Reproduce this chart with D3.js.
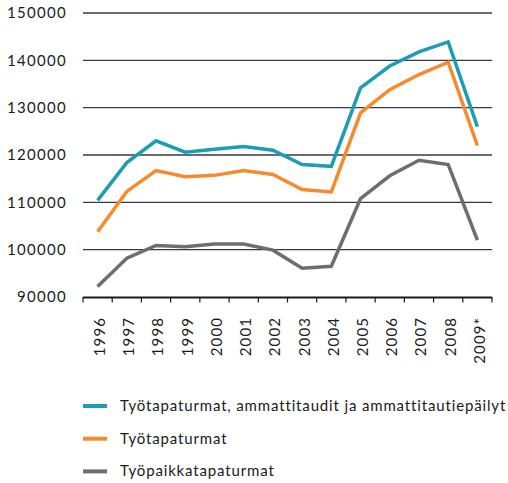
<!DOCTYPE html>
<html>
<head>
<meta charset="utf-8">
<script src="https://cdn.jsdelivr.net/npm/d3@7"></script>
<style>
  body { margin: 0; background: #fff; }
  text { font-family: Lato, "Open Sans", sans-serif; fill: #1a1a1a; }
</style>
</head>
<body>
<div id="chart"></div>
<script>
// chart data
const years = ["1996", "1997", "1998", "1999", "2000", "2001", "2002",
  "2003", "2004", "2005", "2006", "2007", "2008", "2009*"];
const seriesNames = [
  "Työtapaturmat, ammattitaudit ja ammattitautiepäilyt",
  "Työtapaturmat",
  "Työpaikkatapaturmat"
];
const allCases = [110400, 118400, 123000, 120600, 121200, 121800, 121000,
  118000, 117600, 134200, 138800, 141800, 143900, 126000];
const accidents = [103800, 112300, 116700, 115400, 115700, 116700, 115900,
  112700, 112200, 128900, 133800, 137000, 139600, 122000];
const workplace = [92200, 98200, 100900, 100600, 101200, 101200, 99900,
  96100, 96500, 110800, 115600, 118900, 118000, 102000];
const yTicks = [90000, 100000, 110000, 120000, 130000, 140000, 150000];
const colors = ["#1b9eb4", "#f68a2c", "#6e6e70"];

const W = 508, H = 483;
const margin = { top: 13, right: 16, bottom: 186, left: 83 };
const innerW = W - margin.left - margin.right;
const innerH = H - margin.top - margin.bottom;

const svg = d3.select("#chart").append("svg")
  .attr("width", W).attr("height", H);

const g = svg.append("g")
  .attr("transform", `translate(${margin.left},${margin.top})`);

const x = d3.scaleBand().domain(years).range([0, innerW]);
const y = d3.scaleLinear().domain([90000, 150000]).range([innerH, 0]);

// gridlines
g.selectAll(".grid")
  .data(yTicks.filter(d => d > 90000))
  .join("line")
  .attr("class", "grid")
  .attr("x1", 0).attr("x2", innerW)
  .attr("y1", d => y(d)).attr("y2", d => y(d))
  .attr("stroke", "#3a3a3a").attr("stroke-width", 1.3);

// y labels
g.selectAll(".ylab")
  .data(yTicks)
  .join("text")
  .attr("class", "ylab")
  .attr("x", -16).attr("y", d => y(d))
  .attr("dy", "0.36em")
  .attr("text-anchor", "end")
  .style("font-size", "15px")
  .style("letter-spacing", "1.3px")
  .text(d => d);

// x axis
g.append("line")
  .attr("x1", 0).attr("x2", innerW)
  .attr("y1", innerH + 0.5).attr("y2", innerH + 0.5)
  .attr("stroke", "#1a1a1a").attr("stroke-width", 2);

const tickPos = years.map(d => x(d)).concat([innerW]);
g.selectAll(".xtick")
  .data(tickPos)
  .join("line")
  .attr("class", "xtick")
  .attr("x1", d => d).attr("x2", d => d)
  .attr("y1", innerH).attr("y2", innerH + 5.5)
  .attr("stroke", "#1a1a1a").attr("stroke-width", 1.2);

g.selectAll(".xlab")
  .data(years)
  .join("text")
  .attr("class", "xlab")
  .attr("transform", d =>
    `translate(${x(d) + x.bandwidth() / 2 + 2},${innerH + 20}) rotate(-90)`)
  .attr("dy", "0.36em")
  .attr("text-anchor", "end")
  .style("font-size", "15px")
  .style("letter-spacing", "1.1px")
  .text(d => d);

// lines
const series = [allCases, accidents, workplace];
const line = d3.line()
  .x((d, i) => x(years[i]) + x.bandwidth() / 2)
  .y(d => y(d));

g.selectAll(".series")
  .data(series)
  .join("path")
  .attr("class", "series")
  .attr("d", line)
  .attr("fill", "none")
  .attr("stroke", (d, i) => colors[i])
  .attr("stroke-width", 3.5)
  .attr("stroke-linejoin", "miter");

// legend
const legend = svg.append("g").attr("transform", "translate(83,406)");
const item = legend.selectAll(".leg")
  .data(seriesNames)
  .join("g")
  .attr("class", "leg")
  .attr("transform", (d, i) => `translate(0,${i * 32.7})`);

item.append("line")
  .attr("x1", 0).attr("x2", 24)
  .attr("stroke", (d, i) => colors[i])
  .attr("stroke-width", 4);

item.append("text")
  .attr("x", 37).attr("dy", "0.33em")
  .style("font-size", "15px")
  .style("letter-spacing", "0.85px")
  .text(d => d);
</script>
</body>
</html>
